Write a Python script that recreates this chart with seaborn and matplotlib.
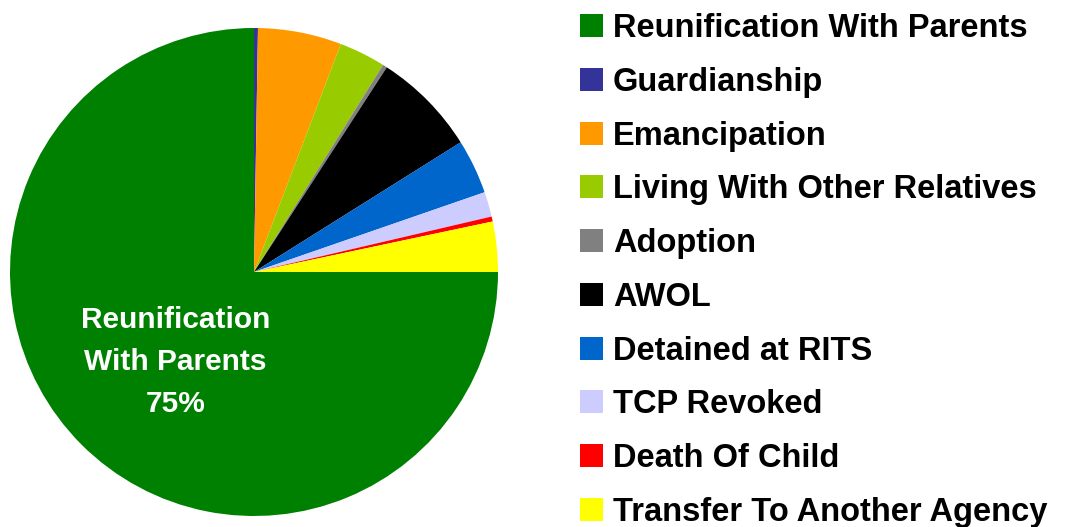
import matplotlib
matplotlib.use("Agg")
import matplotlib.pyplot as plt
from matplotlib.patches import Rectangle
import seaborn as sns

categories = ["Reunification With Parents", "Guardianship", "Emancipation",
              "Living With Other Relatives", "Adoption", "AWOL",
              "Detained at RITS", "TCP Revoked", "Death Of Child",
              "Transfer To Another Agency"]
shares = [75.0, 0.26, 5.53, 3.08, 0.29, 6.92, 3.62, 1.65, 0.33, 3.32]
colors = ["#008000", "#333399", "#FF9900", "#99CC00", "#808080", "#000000",
          "#0066CC", "#CCCCFF", "#FF0000", "#FFFF00"]
inner_lines = ["Reunification", "With Parents", "{:.0f}%".format(shares[0])]

sns.set_theme(style="white")
plt.rcParams["font.family"] = ["Liberation Sans", "DejaVu Sans"]

W, H = 1084, 527
fig = plt.figure(figsize=(W / 100, H / 100), dpi=100)
ax = fig.add_axes([10 / W, 11 / H, 488 / W, 488 / H])
ax.pie(shares, colors=colors, startangle=0, counterclock=False,
       wedgeprops=dict(linewidth=0))
ax.set_aspect("equal")
ax.set_xlim(-1, 1)
ax.set_ylim(-1, 1)
ax.axis("off")

# label inside the big slice (baselines 328, 370, 412 px)
for k, line in enumerate(inner_lines):
    ax.text(-0.3217, (272 - (328 + 42 * k)) / 244, line, color="white",
            fontsize=21.5, fontweight="bold", ha="center", va="baseline")

# legend drawn by hand
for i, (lab, c) in enumerate(zip(categories, colors)):
    yc = 25.5 + i * 53.78
    fig.add_artist(Rectangle((580 / W, 1 - (yc + 11.5) / H), 23 / W, 23 / H,
                             transform=fig.transFigure, color=c, lw=0))
    fig.text(613 / W, 1 - (yc + 11.5) / H, lab, fontsize=23.5,
             fontweight="bold", va="baseline", ha="left", color="black")

fig.savefig("out.png", dpi=100)
